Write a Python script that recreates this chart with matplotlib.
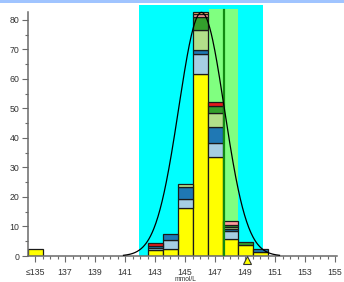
import numpy as np
import matplotlib
matplotlib.use("Agg")
import matplotlib.pyplot as plt
from matplotlib.patches import Rectangle

plt.rcParams['font.family'] = ['Liberation Sans', 'DejaVu Sans']

# bins (mmol/L), 135 is the "<=135" bin
bins = [135, 143, 144, 145, 146, 147, 148, 149, 150]

# stacked groups, bottom to top
yellow      = [2.5, 2.1, 2.4, 16.2, 61.5, 33.4, 5.6, 3.6, 1.5]
light_blue  = [0.0, 0.5, 3.1, 3.0, 7.0, 4.8, 2.7, 0.0, 0.0]
dark_blue   = [0.0, 0.8, 2.0, 4.1, 1.2, 5.5, 0.9, 0.0, 1.0]
light_green = [0.0, 0.0, 0.0, 1.2, 6.7, 4.8, 0.5, 0.0, 0.0]
green       = [0.0, 0.0, 0.0, 0.0, 4.5, 2.2, 0.9, 1.0, 0.0]
red         = [0.0, 1.1, 0.0, 0.0, 0.0, 1.5, 0.0, 0.0, 0.0]
pink        = [0.0, 0.0, 0.0, 0.0, 1.0, 0.0, 1.4, 0.0, 0.0]
orange      = [0.0, 0.0, 0.0, 0.0, 0.7, 0.0, 0.0, 0.0, 0.0]

series = [yellow, light_blue, dark_blue, light_green, green, red, pink, orange]
colors = ['#ffff00', '#a6cee3', '#1f78b4', '#b2df8a', '#33a02c', '#e31a1c', '#fb9a99', '#fdbf6f']

# reference ranges / markers
outer_range = (141.93, 150.18)
inner_range = (146.58, 148.51)
target_line = 147.62
marker_x = 149.13

# fitted normal curve
curve_mean = 146.1
curve_sd = 1.52
curve_peak = 82.5
curve_from, curve_to = 140.9, 151.3

fig = plt.figure(figsize=(3.44, 2.82), dpi=100)
ax = fig.add_axes([27.5 / 344, 26 / 282, 315 / 344, 251 / 282])
fig.patches.append(Rectangle((0, 1 - 3 / 282), 1, 3 / 282, transform=fig.transFigure,
                             facecolor='#a0c4ff', edgecolor='none'))

ax.set_xlim(134.5, 155.5)
ax.set_ylim(0, 85)

ax.add_patch(Rectangle((outer_range[0], 0), outer_range[1] - outer_range[0], 85,
                       facecolor='#00ffff', edgecolor='none', zorder=0))
ax.add_patch(Rectangle((inner_range[0], 0), inner_range[1] - inner_range[0], 83.6,
                       facecolor='#80ff80', edgecolor='none', zorder=0.5))

x = np.array(bins, dtype=float)
bottom = np.zeros(len(bins))
for vals, c in zip(series, colors):
    vals = np.array(vals)
    m = vals > 0
    ax.bar(x[m], vals[m], bottom=bottom[m], width=1.0, color=c,
           edgecolor='#1a1a1a', linewidth=0.9, zorder=2)
    bottom += vals

ax.plot([target_line, target_line], [0, 83.2], color='#128a12', lw=1.6, zorder=3)

xc = np.linspace(curve_from, curve_to, 300)
yc = curve_peak * np.exp(-0.5 * ((xc - curve_mean) / curve_sd) ** 2)
ax.plot(xc, yc, color='black', lw=0.9, zorder=4)

ax.plot([marker_x], [-1.4], marker='^', ms=5.8, mfc='#ffff00', mec='#333333',
        mew=0.8, clip_on=False, zorder=5)

for s in ['top', 'right']:
    ax.spines[s].set_visible(False)
for s in ['left', 'bottom']:
    ax.spines[s].set_color('#6a6a6a')
    ax.spines[s].set_linewidth(1.1)
ax.spines['left'].set_bounds(0, 82.5)
ax.spines['bottom'].set_bounds(134.5, 155.1)

ax.set_yticks(range(0, 81, 10))
ax.set_yticks(range(5, 81, 10), minor=True)
xt = list(range(135, 156, 2))
ax.set_xticks(xt)
ax.set_xticklabels(['≤135'] + [str(v) for v in xt[1:]])
ax.set_xticks(np.arange(135.5, 155.01, 0.5), minor=True)

ax.tick_params(axis='both', which='major', labelsize=6.3, colors='#6a6a6a',
               labelcolor='#333333', length=4.5, width=0.8, pad=1.5)
ax.tick_params(axis='x', which='major', pad=3.8)
ax.tick_params(axis='both', which='minor', colors='#6a6a6a', length=2.5, width=0.8)
ax.set_xlabel('mmol/L', fontsize=4.8, color='#333333')
ax.xaxis.set_label_coords(0.5, -0.078)

fig.savefig('out.png', dpi=100)
